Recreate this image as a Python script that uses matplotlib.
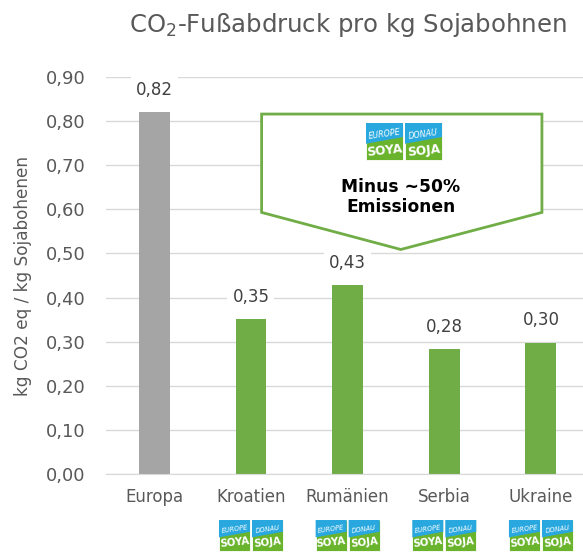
import numpy as np
import matplotlib
matplotlib.use('Agg')
import matplotlib.pyplot as plt
from matplotlib.patches import Polygon, Rectangle

# data
categories = ['Europa', 'Kroatien', 'Rumänien', 'Serbia', 'Ukraine']
values = [0.82, 0.352, 0.428, 0.283, 0.298]
labels = ['0,82', '0,35', '0,43', '0,28', '0,30']
bar_colors = ['#a5a5a5', '#70ad47', '#70ad47', '#70ad47', '#70ad47']
yticks = np.arange(0, 0.91, 0.1)
logo_under = [1, 2, 3, 4]   # categories that get the soya logo

W, H = 583, 554
fig = plt.figure(figsize=(W/100, H/100), dpi=100)
ax = fig.add_axes([106/W, 1-474/H, (W-106)/W, (474-77)/H])

x = np.arange(len(categories))
ax.bar(x, values, width=0.32, color=bar_colors, zorder=2)
ax.set_xlim(-0.5, 4.435)
ax.set_ylim(0, 0.9)
ax.set_yticks(yticks)
ax.yaxis.set_major_formatter(plt.FuncFormatter(lambda v, p: ('%.2f' % v).replace('.', ',')))
ax.set_xticks(x)
ax.set_xticklabels(categories, fontsize=12, color='#595959')
ax.tick_params(axis='y', length=0, pad=15, labelsize=13, labelcolor='#595959')
ax.tick_params(axis='x', length=0, pad=10)
ax.grid(axis='y', color='#d9d9d9', lw=1, zorder=0)
for s in ['top', 'right', 'left']:
    ax.spines[s].set_visible(False)
ax.spines['bottom'].set_color('#d9d9d9')
ax.set_ylabel('kg CO2 eq / kg Sojabohenen', fontsize=12.2, color='#595959', labelpad=10)

for xi, v, lab in zip(x, values, labels):
    ax.annotate(lab, (xi, v), xytext=(0, 16), textcoords='offset points',
                ha='center', va='center', fontsize=12, color='#404040',
                bbox=dict(boxstyle='square,pad=0.3', fc='white', ec='none'), zorder=3)

# arrow shaped callout
callout = Polygon([[1.11, 0.816], [4.01, 0.816], [4.01, 0.593], [2.55, 0.509], [1.11, 0.593]],
                  closed=True, fc='white', ec='#70ad47', lw=2, zorder=4)
ax.add_patch(callout)
ax.text(2.55, 0.628, 'Minus ~50%\nEmissionen', ha='center', va='center', fontsize=12.3,
        fontweight='bold', color='black', linespacing=1.1, zorder=5)

fig.suptitle('CO$_2$-Fußabdruck pro kg Sojabohnen', x=348/W, y=1-25/H, va='center',
             fontsize=17.6, color='#595959')

# overlay in pixel coords for logos
ov = fig.add_axes([0, 0, 1, 1], zorder=10)
ov.set_xlim(0, W)
ov.set_ylim(H, 0)
ov.axis('off')
ov.patch.set_alpha(0)

blue = '#29a8df'
green = '#6ab42d'

def square(x0, y0, s, top, bottom):
    ov.add_patch(Rectangle((x0, y0), s, s, fc=green, ec='white', lw=0.6))
    ov.add_patch(Polygon([[x0, y0], [x0+s, y0], [x0+s, y0+0.38*s], [x0, y0+0.56*s]],
                         closed=True, fc=blue, ec='none'))
    ov.text(x0+s/2, y0+0.3*s, top, ha='center', va='center', color='white',
            fontsize=s*0.155, style='italic', rotation=8)
    ov.text(x0+s/2, y0+0.74*s, bottom, ha='center', va='center', color='white',
            fontsize=s*0.235, fontweight='bold', rotation=6)

def logo(cx, y0, s):
    square(cx - s - 1, y0, s, 'EUROPE', 'SOYA')
    square(cx + 1, y0, s, 'DONAU', 'SOJA')

logo(404, 123, 37)
for i in logo_under:
    cx = ax.transData.transform((i, 0))[0]
    logo(cx, 520, 31)

fig.savefig('out.png', dpi=100)
